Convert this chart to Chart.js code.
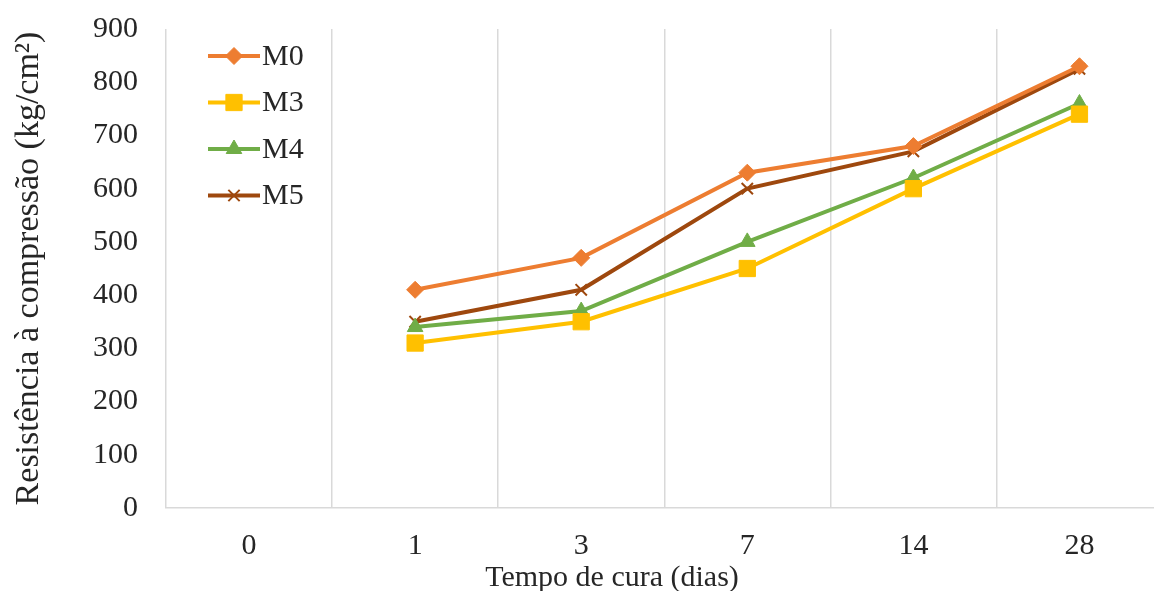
<!DOCTYPE html>
<html>
<head>
<meta charset="utf-8">
<script src="https://cdn.jsdelivr.net/npm/chart.js"></script>
<style>
  html, body { margin: 0; padding: 0; background: #fff; overflow: hidden; }
  #wrap { width: 1175px; height: 591px; overflow: hidden; }
  #myChart { margin-top: -17px; display: block; }
</style>
</head>
<body>
<div id="wrap"><canvas id="myChart" width="1175" height="608"></canvas></div>
<script>
// curing time (days) on the x axis
const days = ['0', '1', '3', '7', '14', '28'];

// compressive strength (kg/cm²) per mix, no value at day 0
const m0 = [null, 410, 470, 630, 680, 830];
const m3 = [null, 310, 350, 450, 600, 740];
const m4 = [null, 340, 370, 500, 620, 760];
const m5 = [null, 350, 410, 600, 670, 825];

const yTicks = [0, 100, 200, 300, 400, 500, 600, 700, 800, 900];

const serif = "'Liberation Serif', 'Times New Roman', serif";
const txt = '#262626';

function series(label, data, color, style, radius, bw) {
    return {
        label, data,
        borderColor: color,
        backgroundColor: color,
        pointBackgroundColor: color,
        pointBorderColor: color,
        pointStyle: style,
        pointRadius: radius,
        pointBorderWidth: bw,
        borderWidth: 4,
        tension: 0,
        spanGaps: false
    };
}

// legend drawn inside the plot, top left, like the original
const insideLegend = {
    id: 'insideLegend',
    afterDraw(chart) {
        const ctx = chart.ctx;
        const a = chart.chartArea;
        ctx.save();
        chart.data.datasets.forEach((ds, i) => {
            const y = a.top + 27 + i * 46.5;
            const x0 = a.left + 42, x1 = a.left + 94;
            ctx.strokeStyle = ds.borderColor;
            ctx.lineWidth = 4;
            ctx.beginPath();
            ctx.moveTo(x0, y);
            ctx.lineTo(x1, y);
            ctx.stroke();
            ctx.fillStyle = ds.borderColor;
            ctx.lineWidth = ds.pointBorderWidth;
            Chart.helpers.drawPoint(ctx, {
                pointStyle: ds.pointStyle, radius: ds.pointRadius,
                rotation: 0, borderWidth: ds.pointBorderWidth
            }, (x0 + x1) / 2, y);
            ctx.fillStyle = txt;
            ctx.font = '30px ' + serif;
            ctx.textBaseline = 'middle';
            ctx.textAlign = 'left';
            ctx.fillText(ds.label, x1 + 2, y + 1);
        });
        // x axis title sits left of the plot centre in the source
        ctx.font = '30px ' + serif;
        ctx.textAlign = 'center';
        ctx.textBaseline = 'middle';
        ctx.fillStyle = txt;
        ctx.fillText('Tempo de cura (dias)', a.left + 446, a.bottom + 70);
        ctx.restore();
    }
};

new Chart(document.getElementById('myChart'), {
    type: 'line',
    data: {
        labels: days,
        datasets: [
            series('M0', m0, '#ED7D31', 'rectRot', 8.5, 1),
            series('M3', m3, '#FFC000', 'rect', 11.5, 1),
            series('M4', m4, '#70AD47', 'triangle', 9, 1),
            series('M5', m5, '#9E480E', 'crossRot', 8, 2)
        ]
    },
    options: {
        responsive: false,
        animation: false,
        layout: { padding: { top: 0, right: 11, left: 0, bottom: 0 } },
        plugins: { legend: { display: false }, tooltip: { enabled: false } },
        scales: {
            x: {
                offset: true,
                grid: { display: true, offset: true, color: '#d9d9d9', lineWidth: 1.5, drawTicks: false },
                border: { display: true, color: '#d9d9d9', width: 1.5 },
                ticks: { color: txt, font: { family: serif, size: 30 }, padding: 20 },
                afterFit(scale) { scale.height = 83; }
            },
            y: {
                min: 0, max: 900,
                afterBuildTicks(scale) { scale.ticks = yTicks.map(v => ({ value: v })); },
                grid: { display: false, drawTicks: false },
                border: { display: false },
                ticks: { color: txt, font: { family: serif, size: 30 }, padding: 28 },
                title: {
                    display: true,
                    text: 'Resistência à compressão (kg/cm²)',
                    color: txt,
                    font: { family: serif, size: 34 },
                    padding: { top: 9, bottom: 0 }
                },
                afterFit(scale) { scale.width = 166; }
            }
        }
    },
    plugins: [insideLegend]
});
</script>
</body>
</html>
